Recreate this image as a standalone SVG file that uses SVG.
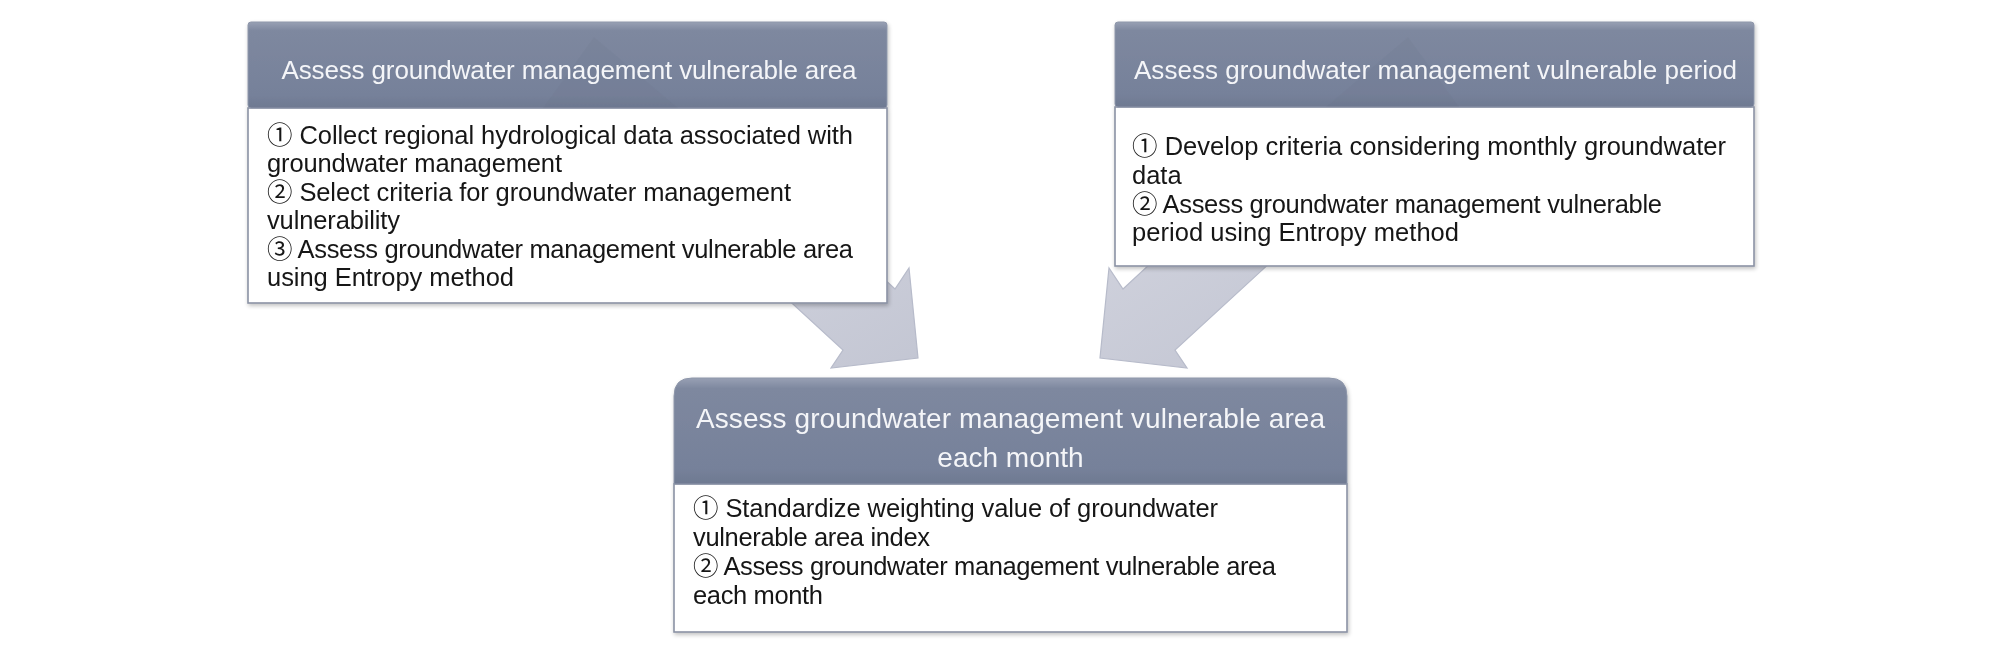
<svg xmlns="http://www.w3.org/2000/svg" width="2008" height="658" viewBox="0 0 2008 658">
  <defs>
    <linearGradient id="hdr" x1="0" y1="0" x2="0" y2="1">
      <stop offset="0" stop-color="#98a0b4"/>
      <stop offset="0.1" stop-color="#7e889f"/>
      <stop offset="0.85" stop-color="#76819a"/>
      <stop offset="1" stop-color="#6e7991"/>
    </linearGradient>
    <linearGradient id="arr" x1="0" y1="0" x2="1" y2="1">
      <stop offset="0" stop-color="#cfd1dc"/>
      <stop offset="1" stop-color="#c3c6d3"/>
    </linearGradient>
    <filter id="sh" x="-5%" y="-5%" width="110%" height="115%">
      <feGaussianBlur in="SourceAlpha" stdDeviation="2"/>
      <feOffset dx="1" dy="2" result="b"/>
      <feComponentTransfer><feFuncA type="linear" slope="0.25"/></feComponentTransfer>
      <feMerge><feMergeNode/><feMergeNode in="SourceGraphic"/></feMerge>
    </filter>
  </defs>
  <style>
    .hdr { fill: url(#hdr); stroke: #8e97aa; stroke-width: 1; }
    .body { fill: #ffffff; stroke: #8b92a4; stroke-width: 1.6; }
    .tri { fill: #5f6a82; opacity: 0.1; }
    .title { font-family: 'Liberation Sans', 'Noto Sans CJK KR', sans-serif; font-size: 26px; fill: #f4f5f8; }
    .t3 { font-size: 28px; }
    .txt { font-family: 'Liberation Sans', 'Noto Sans CJK KR', sans-serif; font-size: 25.5px; fill: #161616; }
    .arrow { fill: url(#arr); stroke: #b7bbca; stroke-width: 1.2; stroke-linejoin: miter; }
  </style>
  <rect width="2008" height="658" fill="#ffffff"/>

  <g id="connectors">
    <polygon class="arrow" points="853,250 895,289 909,268 918,358 831,368 843,350 734,250"/>
    <polygon class="arrow" points="1165,250 1123,289 1109,268 1100,358 1187,368 1175,350 1284,250"/>
  </g>

  <g id="node-area" filter="url(#sh)">
    <rect class="body" x="248" y="108" width="639" height="195"/>
    <rect class="hdr" x="248" y="22" width="639" height="86" rx="3"/>
    <polygon class="tri" points="594,37 678,108 543,108"/>
    <text class="title" x="569" y="79" text-anchor="middle" textLength="575" lengthAdjust="spacing">Assess groundwater management vulnerable area</text>
    <text class="txt" x="267" y="144" textLength="586" lengthAdjust="spacing">① Collect regional hydrological data associated with</text>
    <text class="txt" x="267" y="172" textLength="295" lengthAdjust="spacing">groundwater management</text>
    <text class="txt" x="267" y="201" textLength="524" lengthAdjust="spacing">② Select criteria for groundwater management</text>
    <text class="txt" x="267" y="229" textLength="133" lengthAdjust="spacing">vulnerability</text>
    <text class="txt" x="267" y="258" textLength="586" lengthAdjust="spacing">③ Assess groundwater management vulnerable area</text>
    <text class="txt" x="267" y="286" textLength="247" lengthAdjust="spacing">using Entropy method</text>
  </g>

  <g id="node-period" filter="url(#sh)">
    <rect class="body" x="1115" y="107" width="639" height="159"/>
    <rect class="hdr" x="1115" y="22" width="639" height="85" rx="3"/>
    <polygon class="tri" points="1408,37 1459,107 1326,107"/>
    <text class="title" x="1435.5" y="79" text-anchor="middle" textLength="603" lengthAdjust="spacing">Assess groundwater management vulnerable period</text>
    <text class="txt" x="1132" y="155" textLength="594" lengthAdjust="spacing">① Develop criteria considering monthly groundwater</text>
    <text class="txt" x="1132" y="184">data</text>
    <text class="txt" x="1132" y="213" textLength="530" lengthAdjust="spacing">② Assess groundwater management vulnerable</text>
    <text class="txt" x="1132" y="241" textLength="327" lengthAdjust="spacing">period using Entropy method</text>
  </g>

  <g id="node-month" filter="url(#sh)">
    <rect class="body" x="674" y="484" width="673" height="148"/>
    <path class="hdr" d="M674,484 V396 Q674,378 692,378 H1329 Q1347,378 1347,396 V484 Z"/>
    <text class="title t3" x="1010.5" y="428" text-anchor="middle" textLength="629" lengthAdjust="spacing">Assess groundwater management vulnerable area</text>
    <text class="title t3" x="1010.5" y="467" text-anchor="middle">each month</text>
    <text class="txt" x="693" y="517" textLength="525" lengthAdjust="spacing">① Standardize weighting value of groundwater</text>
    <text class="txt" x="693" y="546" textLength="237" lengthAdjust="spacing">vulnerable area index</text>
    <text class="txt" x="693" y="575" textLength="583" lengthAdjust="spacing">② Assess groundwater management vulnerable area</text>
    <text class="txt" x="693" y="604" textLength="130" lengthAdjust="spacing">each month</text>
  </g>
</svg>
